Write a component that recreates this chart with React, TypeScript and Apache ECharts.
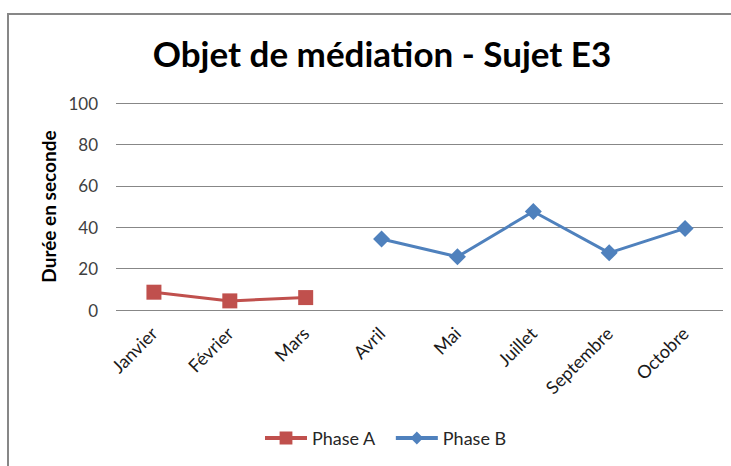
import React, { useEffect, useRef } from "react";
import * as echarts from "echarts";

const categories = ["Janvier", "Février", "Mars", "Avril", "Mai", "Juillet", "Septembre", "Octobre"];
const phaseA = [8.6, 4.4, 6.0, null, null, null, null, null];
const phaseB = [null, null, null, 34.3, 25.7, 47.6, 27.6, 39.4];
const yTicks = { min: 0, max: 100, interval: 20 };

export default function App() {
  const ref = useRef<HTMLDivElement>(null);
  useEffect(() => {
    if (!ref.current) return;
    const chart = echarts.init(ref.current, undefined, { renderer: "svg" });
    chart.setOption({
      animation: false,
      backgroundColor: "#ffffff",
      textStyle: { fontFamily: "Lato" },
      title: {
        text: "Objet de médiation - Sujet E3",
        left: 377,
        textAlign: "center",
        top: 30,
        textStyle: { fontFamily: "Lato", fontWeight: "bold", fontSize: 35, color: "#000000" },
      },
      graphic: [
        {
          type: "rect",
          shape: { x: 8, y: 14, width: 800, height: 500 },
          style: { fill: "none", stroke: "#878787", lineWidth: 2 },
          silent: true,
        },
      ],
      grid: { left: 116, right: 8, top: 103, bottom: 156, containLabel: false },
      legend: {
        bottom: 14,
        left: 258,
        itemWidth: 42,
        itemHeight: 16,
        itemGap: 18,
        lineStyle: { width: 4 },
        textStyle: { fontSize: 18, color: "#262626", fontFamily: "Lato" },
        data: ["Phase A", "Phase B"],
      },
      xAxis: {
        type: "category",
        data: categories,
        boundaryGap: true,
        axisLine: { show: false },
        axisTick: { show: false },
        axisLabel: { rotate: 45, fontSize: 18, color: "#1a1a1a", margin: 20, fontFamily: "Lato" },
      },
      yAxis: {
        type: "value",
        min: yTicks.min,
        max: yTicks.max,
        interval: yTicks.interval,
        name: "Durée en seconde",
        nameLocation: "middle",
        nameGap: 58,
        nameTextStyle: { fontWeight: "bold", fontSize: 19, color: "#000000", fontFamily: "Lato" },
        axisLine: { show: false },
        axisTick: { show: false },
        axisLabel: { fontSize: 17, color: "#404040", margin: 18, fontFamily: "Lato" },
        splitLine: { lineStyle: { color: "#878787", width: 1 } },
      },
      series: [
        {
          name: "Phase A",
          type: "line",
          data: phaseA,
          symbol: "rect",
          symbolSize: 15,
          lineStyle: { color: "#C0504D", width: 3 },
          itemStyle: { color: "#C0504D" },
          connectNulls: false,
        },
        {
          name: "Phase B",
          type: "line",
          data: phaseB,
          symbol: "diamond",
          symbolSize: 17,
          lineStyle: { color: "#4F81BD", width: 3 },
          itemStyle: { color: "#4F81BD" },
          connectNulls: false,
        },
      ],
    });
    return () => chart.dispose();
  }, []);
  return (
    <div
      ref={ref}
      style={{ position: "fixed", left: 0, top: 0, width: 731, height: 466 }}
    />
  );
}
